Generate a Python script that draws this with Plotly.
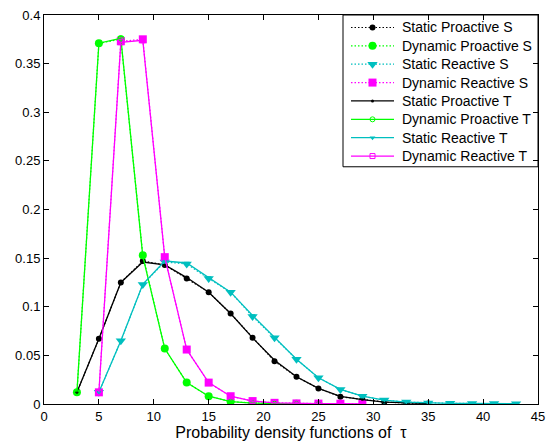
import plotly.graph_objects as go

# ---- data ----
x_sp = [3, 5, 7, 9, 11, 13, 15, 17, 19, 21, 23, 25, 27, 29, 31, 33, 35]
static_proactive_s = [0.012, 0.067, 0.125, 0.147, 0.143, 0.129, 0.115, 0.093, 0.068, 0.044,
                      0.028, 0.016, 0.0075, 0.0045, 0.002, 0.001, 0.0005]
static_proactive_t = [0.012, 0.067, 0.125, 0.146, 0.143, 0.130, 0.115, 0.093, 0.068, 0.045,
                      0.028, 0.016, 0.0078, 0.0045, 0.002, 0.001, 0.0005]

x_dp = [3, 5, 7, 9, 11, 13, 15, 17, 19, 21, 23, 25]
dynamic_proactive_s = [0.012, 0.371, 0.375, 0.153, 0.057, 0.022, 0.008, 0.0025, 0.001, 0.0004, 0.0002, 0.0001]
dynamic_proactive_t = [0.012, 0.371, 0.376, 0.152, 0.057, 0.022, 0.008, 0.0025, 0.001, 0.0004, 0.0002, 0.0001]

x_sr = [5, 7, 9, 11, 13, 15, 17, 19, 21, 23, 25, 27, 29, 31, 33, 35, 37, 39, 41, 43]
static_reactive_s = [0.012, 0.065, 0.123, 0.146, 0.144, 0.129, 0.115, 0.090, 0.068, 0.046,
                     0.027, 0.015, 0.008, 0.004, 0.002, 0.001, 0.0007, 0.0005, 0.0004, 0.0003]
static_reactive_t = [0.012, 0.065, 0.123, 0.147, 0.145, 0.130, 0.115, 0.091, 0.068, 0.046,
                     0.027, 0.015, 0.008, 0.004, 0.002, 0.001, 0.0007, 0.0005, 0.0004, 0.0003]

x_dr = [5, 7, 9, 11, 13, 15, 17, 19, 21, 23, 25, 27, 29]
dynamic_reactive_s = [0.012, 0.373, 0.375, 0.151, 0.056, 0.022, 0.008, 0.003, 0.0012, 0.0006, 0.0004, 0.0003, 0.0002]
dynamic_reactive_t = [0.012, 0.372, 0.374, 0.151, 0.056, 0.022, 0.008, 0.003, 0.0012, 0.0006, 0.0004, 0.0003, 0.0002]

x_ticks = [0, 5, 10, 15, 20, 25, 30, 35, 40, 45]
y_ticks = [0, 0.05, 0.1, 0.15, 0.2, 0.25, 0.3, 0.35, 0.4]
y_tick_labels = ["0", "0.05", "0.1", "0.15", "0.2", "0.25", "0.3", "0.35", "0.4"]

BLACK, GREEN, CYAN, MAGENTA = "#000000", "#00FF00", "#00BFBF", "#FF00FF"
FONT = "Liberation Sans, Arial, sans-serif"
DOTTED = "1.5px,2px"

# (name, x, y, colour, dash, symbol, marker size)
series = [
    ("Static Proactive S", x_sp, static_proactive_s, BLACK, DOTTED, "circle", 6),
    ("Dynamic Proactive S", x_dp, dynamic_proactive_s, GREEN, DOTTED, "circle", 8),
    ("Static Reactive S", x_sr, static_reactive_s, CYAN, DOTTED, "triangle-down", 9),
    ("Dynamic Reactive S", x_dr, dynamic_reactive_s, MAGENTA, DOTTED, "square", 8),
    ("Static Proactive T", x_sp, static_proactive_t, BLACK, "solid", "circle", 3),
    ("Dynamic Proactive T", x_dp, dynamic_proactive_t, GREEN, "solid", "circle-open", 5),
    ("Static Reactive T", x_sr, static_reactive_t, CYAN, "solid", "triangle-down", 5),
    ("Dynamic Reactive T", x_dr, dynamic_reactive_t, MAGENTA, "solid", "square-open", 5),
]

fig = go.Figure()
for name, xs, ys, col, dash, sym, sz in series:
    fig.add_trace(go.Scatter(
        x=xs, y=ys, name=name, mode="lines+markers", showlegend=False,
        line=dict(color=col, width=1.2 if dash != "solid" else 1.3, dash=dash),
        marker=dict(color=col, symbol=sym, size=sz,
                    line=dict(color=col, width=1 if "open" in sym else 0)),
    ))

# ---- legend drawn on an overlay axis measured in pixels of the plot area ----
PW, PH = 494, 396
box_l, box_r, box_t, box_b = 299, 494, 0, 154.5
row0, row_step = 12.7, 18.7
sym_l, sym_r, txt_x = 307, 350, 356

fig.add_trace(go.Scatter(
    x=[box_l, box_r, box_r, box_l, box_l], y=[box_t, box_t, box_b, box_b, box_t],
    xaxis="x2", yaxis="y2", mode="lines", fill="toself", fillcolor="white",
    line=dict(color="black", width=1), showlegend=False, hoverinfo="skip",
))
annotations = []
for i, (name, xs, ys, col, dash, sym, sz) in enumerate(series):
    ry = row0 + i * row_step
    fig.add_trace(go.Scatter(
        x=[sym_l, sym_r], y=[ry, ry], xaxis="x2", yaxis="y2", mode="lines",
        line=dict(color=col, width=1.2 if dash != "solid" else 1.3, dash=dash),
        showlegend=False, hoverinfo="skip",
    ))
    fig.add_trace(go.Scatter(
        x=[(sym_l + sym_r) / 2], y=[ry], xaxis="x2", yaxis="y2", mode="markers",
        marker=dict(color=col, symbol=sym, size=sz,
                    line=dict(color=col, width=1 if "open" in sym else 0)),
        showlegend=False, hoverinfo="skip",
    ))
    annotations.append(dict(
        x=txt_x, y=ry, xref="x2", yref="y2", text=name, showarrow=False,
        xanchor="left", yanchor="middle", font=dict(family=FONT, size=14, color="black"),
    ))

fig.update_layout(
    width=559, height=447,
    margin=dict(l=44, r=21, t=8, b=43),
    paper_bgcolor="white", plot_bgcolor="white",
    font=dict(family=FONT, size=13, color="black"),
    showlegend=False,
    annotations=annotations,
    xaxis=dict(
        range=[0, 45], tickvals=x_ticks, ticktext=[str(v) for v in x_ticks],
        ticks="inside", ticklen=5, tickcolor="black",
        showline=True, linecolor="black", linewidth=1, mirror="allticks",
        showgrid=False, zeroline=False,
        title=dict(text="Probability density functions of  τ", standoff=2,
                   font=dict(family=FONT, size=16)),
    ),
    yaxis=dict(
        range=[0, 0.4], tickvals=y_ticks, ticktext=y_tick_labels,
        ticks="inside", ticklen=5, tickcolor="black",
        showline=True, linecolor="black", linewidth=1, mirror="allticks",
        showgrid=False, zeroline=False,
    ),
    xaxis2=dict(overlaying="x", anchor="y2", range=[0, PW], visible=False, fixedrange=True),
    yaxis2=dict(overlaying="y", anchor="x2", range=[PH, 0], visible=False, fixedrange=True),
)

fig.write_html("out.html")
